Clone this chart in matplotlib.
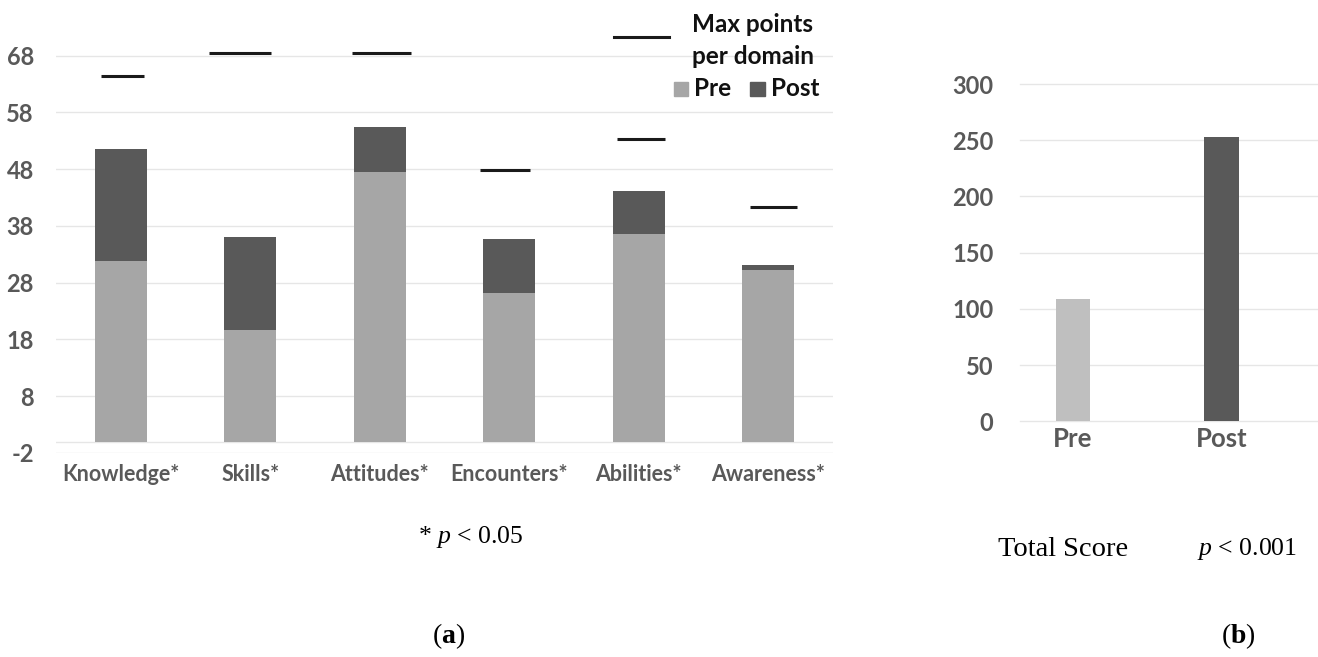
import matplotlib
matplotlib.use("Agg")
import matplotlib.pyplot as plt
from matplotlib.lines import Line2D
from matplotlib.patches import Rectangle
import numpy as np

plt.rcParams["mathtext.fontset"] = "custom"
plt.rcParams["mathtext.rm"] = "Liberation Serif"
plt.rcParams["mathtext.it"] = "Liberation Serif:italic"
plt.rcParams["mathtext.bf"] = "Liberation Serif:bold"

# ---- data ----
domains = ["Knowledge*", "Skills*", "Attitudes*", "Encounters*", "Abilities*", "Awareness*"]
pre_scores = [31.9, 19.7, 47.6, 26.2, 36.6, 30.2]
post_scores = [51.6, 36.0, 55.4, 35.7, 44.2, 31.1]
max_points = [64.4, 68.4, 68.4, 47.8, 53.3, 41.4]
left_ticks = [-2, 8, 18, 28, 38, 48, 58, 68]

total_labels = ["Pre", "Post"]
total_scores = [108.5, 252.7]
right_ticks = [0, 50, 100, 150, 200, 250, 300]

# style: horizontal extent of each max-points marker (category units, relative to centre)
max_line_extent = [(-0.155, 0.180), (-0.319, 0.160), (-0.214, 0.241),
                   (-0.226, 0.160), (-0.168, 0.203), (-0.141, 0.222)]

W, H = 1318, 657
fig = plt.figure(figsize=(W / 100, H / 100), dpi=100)

def fx(x):
    return x / W

def fy(y):
    return 1 - y / H

TICK_COL = "#595959"
GRID_COL = "#e6e6e6"
PRE_COL = "#a6a6a6"
POST_COL = "#595959"
SANS = "Lato"
SERIF = "Liberation Serif"

# ---- left panel ----
ax = fig.add_axes([fx(56), fy(453), fx(833) - fx(56), fy(16) - fy(453)])
x = np.arange(len(domains))
ax.set_xlim(-0.5, len(domains) - 0.5)
ax.set_ylim(-2, 75)
for t in left_ticks:
    ax.axhline(t, color=GRID_COL, lw=1, zorder=0)
ax.axhline(0, color=GRID_COL, lw=1, zorder=0)
ax.bar(x, post_scores, width=0.40, color=POST_COL, zorder=2)
ax.bar(x, pre_scores, width=0.40, color=PRE_COL, zorder=3)
for i, (m, (a, b)) in enumerate(zip(max_points, max_line_extent)):
    ax.plot([i + a, i + b], [m, m], color="#1a1a1a", lw=2.2, solid_capstyle="butt", zorder=4)
ax.set_yticks(left_ticks)
ax.set_yticklabels([str(t) for t in left_ticks], fontsize=17, fontweight="bold",
                   color=TICK_COL, family=SANS)
ax.set_xticks(x)
ax.set_xticklabels(domains, fontsize=15.5, fontweight="bold", color=TICK_COL, family=SANS)
ax.tick_params(axis="y", length=0, pad=16)
ax.tick_params(axis="x", length=0, pad=8)
for s in ax.spines.values():
    s.set_visible(False)

# legend (manual)
fig.add_artist(Line2D([fx(614), fx(669)], [fy(37), fy(37)], color="#1a1a1a", lw=2.2,
                      transform=fig.transFigure))
fig.text(fx(692), fy(25), "Max points", ha="left", va="center", fontsize=17.5,
         fontweight="bold", family=SANS, color="#111111")
fig.text(fx(692), fy(57), "per domain", ha="left", va="center", fontsize=17.5,
         fontweight="bold", family=SANS, color="#111111")
fig.add_artist(Rectangle((fx(674), fy(96)), fx(14), fy(82) - fy(96), color=PRE_COL,
                         transform=fig.transFigure))
fig.text(fx(694), fy(88), "Pre", ha="left", va="center", fontsize=17.5,
         fontweight="bold", family=SANS, color="#111111")
fig.add_artist(Rectangle((fx(750), fy(96)), fx(15), fy(82) - fy(96), color=POST_COL,
                         transform=fig.transFigure))
fig.text(fx(771), fy(88), "Post", ha="left", va="center", fontsize=17.5,
         fontweight="bold", family=SANS, color="#111111")

# ---- right panel ----
ax2 = fig.add_axes([fx(1020), fy(421.3), fx(1317) - fx(1020), fy(84) - fy(421.3)])
ax2.set_xlim(-53 / 148.5, (297 - 53) / 148.5)
ax2.set_ylim(0, 300)
for t in right_ticks:
    ax2.axhline(t, color=GRID_COL, lw=1, zorder=0, clip_on=False)
ax2.bar([0, 1], total_scores, width=0.229, color=["#bfbfbf", POST_COL], zorder=2)
ax2.set_yticks(right_ticks)
ax2.set_yticklabels([str(t) for t in right_ticks], fontsize=17, fontweight="bold",
                    color=TICK_COL, family=SANS)
ax2.set_xticks([0, 1])
ax2.set_xticklabels(total_labels, fontsize=18.5, fontweight="bold", color=TICK_COL, family=SANS)
ax2.tick_params(axis="y", length=0, pad=19)
ax2.tick_params(axis="x", length=0, pad=4)
for s in ax2.spines.values():
    s.set_visible(False)

# ---- captions ----
CAP = 21
PCAP = 18.5
fig.text(fx(418), fy(537), r"* $\mathit{p}$ < 0.05", ha="left", va="center", fontsize=PCAP,
         family=SERIF, color="black")
fig.text(fx(998), fy(549), "Total Score", ha="left", va="center", fontsize=CAP - 0.5,
         family=SERIF, color="black")
fig.text(fx(1197), fy(549), r"$\mathit{p}$ < 0.001", ha="left", va="center", fontsize=PCAP,
         family=SERIF, color="black")
fig.text(fx(449), fy(636), r"($\mathbf{a}$)", ha="center", va="center", fontsize=CAP - 1,
         family=SERIF, color="black")
fig.text(fx(1238), fy(636), r"($\mathbf{b}$)", ha="center", va="center", fontsize=CAP - 1,
         family=SERIF, color="black")

fig.savefig("out.png", dpi=100)
